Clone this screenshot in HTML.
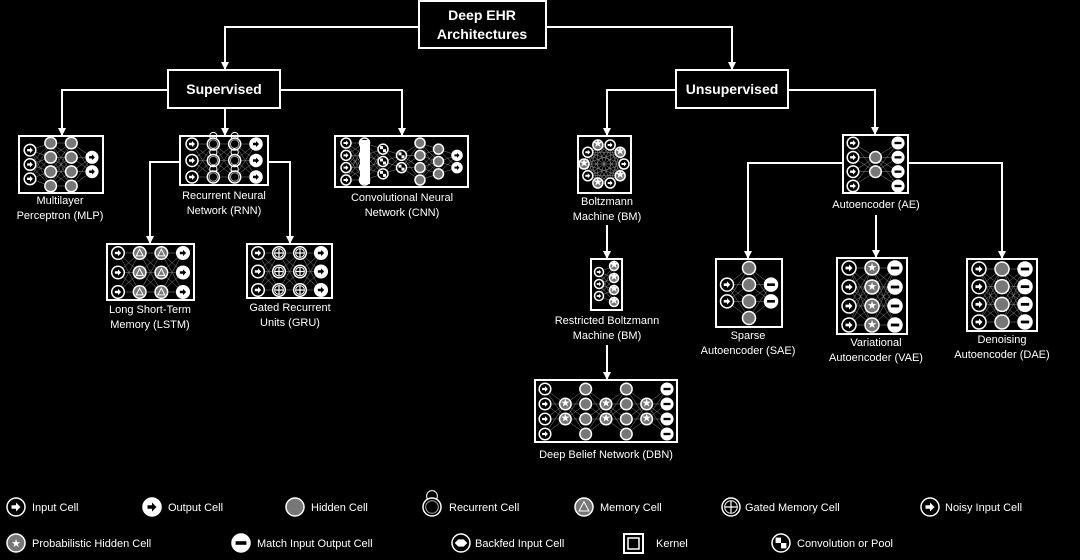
<!DOCTYPE html>
<html><head><meta charset="utf-8"><style>
html,body{margin:0;padding:0;background:#000;}
svg{display:block}
text{font-family:"Liberation Sans",Arial,sans-serif;fill:#fff;font-size:11px}
.t{font-weight:bold;font-size:14px}
</style></head><body>
<svg id="s" width="1080" height="560" viewBox="0 0 1080 560" xmlns="http://www.w3.org/2000/svg">
<defs><marker id="a" markerWidth="8" markerHeight="8" refX="7" refY="4" orient="auto" markerUnits="userSpaceOnUse"><path d="M0,0 L8,4 L0,8 z" fill="#fff"/></marker></defs>
<g fill="none" stroke="#fff" stroke-width="2">
<rect x="419" y="1" width="127" height="47"/>
<rect x="168" y="70" width="112" height="38"/>
<rect x="676" y="70" width="112" height="38"/>
<g marker-end="url(#a)">
<path d="M419,27H225V69"/><path d="M546,27H732V69"/>
<path d="M168,90H62V135"/><path d="M225,108V135"/><path d="M280,90H402V135"/>
<path d="M676,90H607V135"/><path d="M788,90H875V134"/>
<path d="M180,162H150V243"/><path d="M268,162H290V243"/>
<path d="M607,225V258"/><path d="M607,345V379"/>
<path d="M843,163H748V258"/><path d="M876,215V257"/><path d="M908,163H1002V258"/>
</g>
<rect x="19" y="136" width="84" height="57"/>
<rect x="180" y="136" width="88" height="49"/>
<rect x="335" y="136" width="133" height="51"/>
<rect x="107" y="244" width="87" height="56"/>
<rect x="247" y="244" width="85" height="54"/>
<rect x="578" y="136" width="53" height="57"/>
<rect x="591" y="259" width="31" height="51"/>
<rect x="535" y="380" width="142" height="62"/>
<rect x="843" y="135" width="65" height="58"/>
<rect x="716" y="259" width="66" height="68"/>
<rect x="837" y="258" width="70" height="76"/>
<rect x="967" y="259" width="70" height="72"/>
</g>
<g id="nets"></g>
<g text-anchor="middle">
<text class="t" x="482" y="20">Deep EHR</text><text class="t" x="482" y="39">Architectures</text>
<text class="t" x="224" y="94" font-size="13">Supervised</text>
<text class="t" x="732" y="94" font-size="13">Unsupervised</text>
<text x="60" y="204">Multilayer</text><text x="60" y="219">Perceptron (MLP)</text>
<text x="224" y="199">Recurrent Neural</text><text x="224" y="214">Network (RNN)</text>
<text x="402" y="201">Convolutional Neural</text><text x="402" y="216">Network (CNN)</text>
<text x="150" y="313">Long Short-Term</text><text x="150" y="328">Memory (LSTM)</text>
<text x="290" y="311">Gated Recurrent</text><text x="290" y="326">Units (GRU)</text>
<text x="607" y="205">Boltzmann</text><text x="607" y="220">Machine (BM)</text>
<text x="607" y="324">Restricted Boltzmann</text><text x="607" y="339">Machine (BM)</text>
<text x="606" y="458">Deep Belief Network (DBN)</text>
<text x="876" y="208">Autoencoder (AE)</text>
<text x="748" y="339">Sparse</text><text x="748" y="354">Autoencoder (SAE)</text>
<text x="876" y="346">Variational</text><text x="876" y="361">Autoencoder (VAE)</text>
<text x="1002" y="343">Denoising</text><text x="1002" y="358">Autoencoder (DAE)</text>
</g>
<g>
<text x="32" y="511">Input Cell</text><text x="168" y="511">Output Cell</text><text x="311" y="511">Hidden Cell</text>
<text x="449" y="511">Recurrent Cell</text><text x="600" y="511">Memory Cell</text><text x="745" y="511">Gated Memory Cell</text>
<text x="945" y="511">Noisy Input Cell</text>
<text x="32" y="547">Probabilistic Hidden Cell</text><text x="257" y="547">Match Input Output Cell</text>
<text x="475" y="547">Backfed Input Cell</text><text x="656" y="547">Kernel</text><text x="797" y="547">Convolution or Pool</text>
</g>
</svg>
<script>
var NS="http://www.w3.org/2000/svg",G=document.getElementById("nets");
function el(t,a){var e=document.createElementNS(NS,t);for(var k in a)e.setAttribute(k,a[k]);G.appendChild(e);return e;}
function cell(x,y,r,t){
 var f="#000",sw=1.5;
 if(t=="out"||t=="match")f="#fff";
 if(t=="hid"||t=="prob"||t=="mem")f="#777";
 if(t=="rec"){el("circle",{cx:x,cy:y-r-2,r:r*0.6,fill:"none",stroke:"#fff","stroke-width":1});}
 el("circle",{cx:x,cy:y,r:r,fill:f,stroke:"#fff","stroke-width":sw});
 if(t=="in"||t=="noisy")el("path",{d:"M"+(x-r*.5)+","+(y-r*.2)+"h"+(r*.5)+"v-"+(r*.3)+"l"+(r*.5)+","+(r*.5)+"l-"+(r*.5)+","+(r*.5)+"v-"+(r*.3)+"h-"+(r*.5)+"z",fill:"#fff"});
 if(t=="out")el("path",{d:"M"+(x-r*.5)+","+(y-r*.2)+"h"+(r*.5)+"v-"+(r*.3)+"l"+(r*.5)+","+(r*.5)+"l-"+(r*.5)+","+(r*.5)+"v-"+(r*.3)+"h-"+(r*.5)+"z",fill:"#000"});
 if(t=="match")el("rect",{x:x-r*.6,y:y-r*.2,width:r*1.2,height:r*.4,fill:"#000"});
 if(t=="rec")el("circle",{cx:x,cy:y,r:r*.7,fill:"none",stroke:"#aaa","stroke-width":1});
 if(t=="mem")el("path",{d:"M"+x+","+(y-r*.6)+"L"+(x+r*.55)+","+(y+r*.45)+"L"+(x-r*.55)+","+(y+r*.45)+"z",fill:"none",stroke:"#fff","stroke-width":1});
 if(t=="gate")el("path",{d:"M"+(x-r*.7)+","+y+"h"+(r*1.4)+"M"+x+","+(y-r*.7)+"v"+(r*1.4),stroke:"#fff","stroke-width":1.2,fill:"none"});
 if(t=="gate")el("circle",{cx:x,cy:y,r:r*.7,fill:"none",stroke:"#fff","stroke-width":1});
 if(t=="prob")el("text",{x:x,y:y+r*.45,"text-anchor":"middle","font-size":r*1.3}).textContent="★";
 if(t=="backfed")el("path",{d:"M"+(x-r*.7)+","+y+"l"+(r*.4)+",-"+(r*.4)+"h"+(r*.6)+"l"+(r*.4)+","+(r*.4)+"l-"+(r*.4)+","+(r*.4)+"h-"+(r*.6)+"z",fill:"#fff"});
 if(t=="conv"){el("rect",{x:x-r*.6,y:y-r*.6,width:r*.6,height:r*.6,fill:"#fff"});el("rect",{x:x,y:y,width:r*.6,height:r*.6,fill:"#fff"});}
}
function net(x0,x1,y0,y1,cols,r){
 var n=cols.length,pts=[];
 for(var i=0;i<n;i++){var c=cols[i][0],x=x0+(x1-x0)*i/(n-1),col=[];
  for(var j=0;j<c;j++){var y=(y0+y1)/2+(j-(c-1)/2)*((y1-y0)/Math.max(c-1,1)*(c>1?1:0)*Math.min(1,(c-1)/Math.max.apply(null,cols.map(function(a){return a[0]-1}))));col.push([x,y]);}
  pts.push(col);}
 for(var i=0;i<n-1;i++)pts[i].forEach(function(p){pts[i+1].forEach(function(q){el("line",{x1:p[0],y1:p[1],x2:q[0],y2:q[1],stroke:"#888","stroke-width":.5});});});
 for(var i=0;i<n;i++)pts[i].forEach(function(p){cell(p[0],p[1],r,cols[i][1]);});
}
net(30,92,143,186,[[3,"in"],[4,"hid"],[4,"hid"],[2,"out"]],5.8);
net(192,256,144,177,[[3,"in"],[3,"rec"],[3,"rec"],[3,"out"]],6);
net(118,183,253,292,[[3,"in"],[3,"mem"],[3,"mem"],[3,"out"]],6.3);
net(258,321,253,290,[[3,"in"],[3,"gate"],[3,"gate"],[3,"out"]],6.3);
net(346,457,143,180,[[4,"in"],[4,"conv"],[3,"conv"],[2,"conv"],[4,"hid"],[3,"hid"],[2,"out"]],5);
el("rect",{x:360,y:140,width:10,height:44,fill:"#fff"});
net(853,898,143,186,[[4,"in"],[2,"hid"],[4,"match"]],5.8);
net(727,771,268,318,[[2,"in"],[4,"hid"],[2,"match"]],6.5);
net(849,895,268,325,[[4,"in"],[4,"prob"],[4,"match"]],7);
net(979,1025,269,322,[[4,"noisy"],[4,"hid"],[4,"match"]],7);
net(599,614,266,302,[[3,"in"],[4,"prob"]],4.5);
net(545,667,389,434,[[4,"in"],[2,"prob"],[4,"hid"],[2,"prob"],[4,"hid"],[2,"prob"],[4,"match"]],5.8);
(function(){var cx=604,cy=164,pts=[];for(var i=0;i<10;i++){var a=i/10*2*Math.PI;pts.push([cx+20*Math.cos(a),cy+20*Math.sin(a)]);}
 pts.forEach(function(p){pts.forEach(function(q){el("line",{x1:p[0],y1:p[1],x2:q[0],y2:q[1],stroke:"#888","stroke-width":.4});});});
 pts.forEach(function(p,i){cell(p[0],p[1],5,i%2?"prob":"in");});})();
cell(16,507,9,"in");cell(152,507,9,"out");cell(295,507,9,"hid");cell(432,507,9,"rec");
cell(584,507,9,"mem");cell(731,507,9,"gate");cell(930,507,9,"noisy");
cell(16,543,9,"prob");cell(241,543,9,"match");cell(461,543,9,"backfed");cell(781,543,9,"conv");
el("rect",{x:624,y:534,width:19,height:19,fill:"none",stroke:"#fff","stroke-width":2});
el("rect",{x:628,y:538,width:11,height:11,fill:"none",stroke:"#fff","stroke-width":1.5});
</script>
</body></html>
